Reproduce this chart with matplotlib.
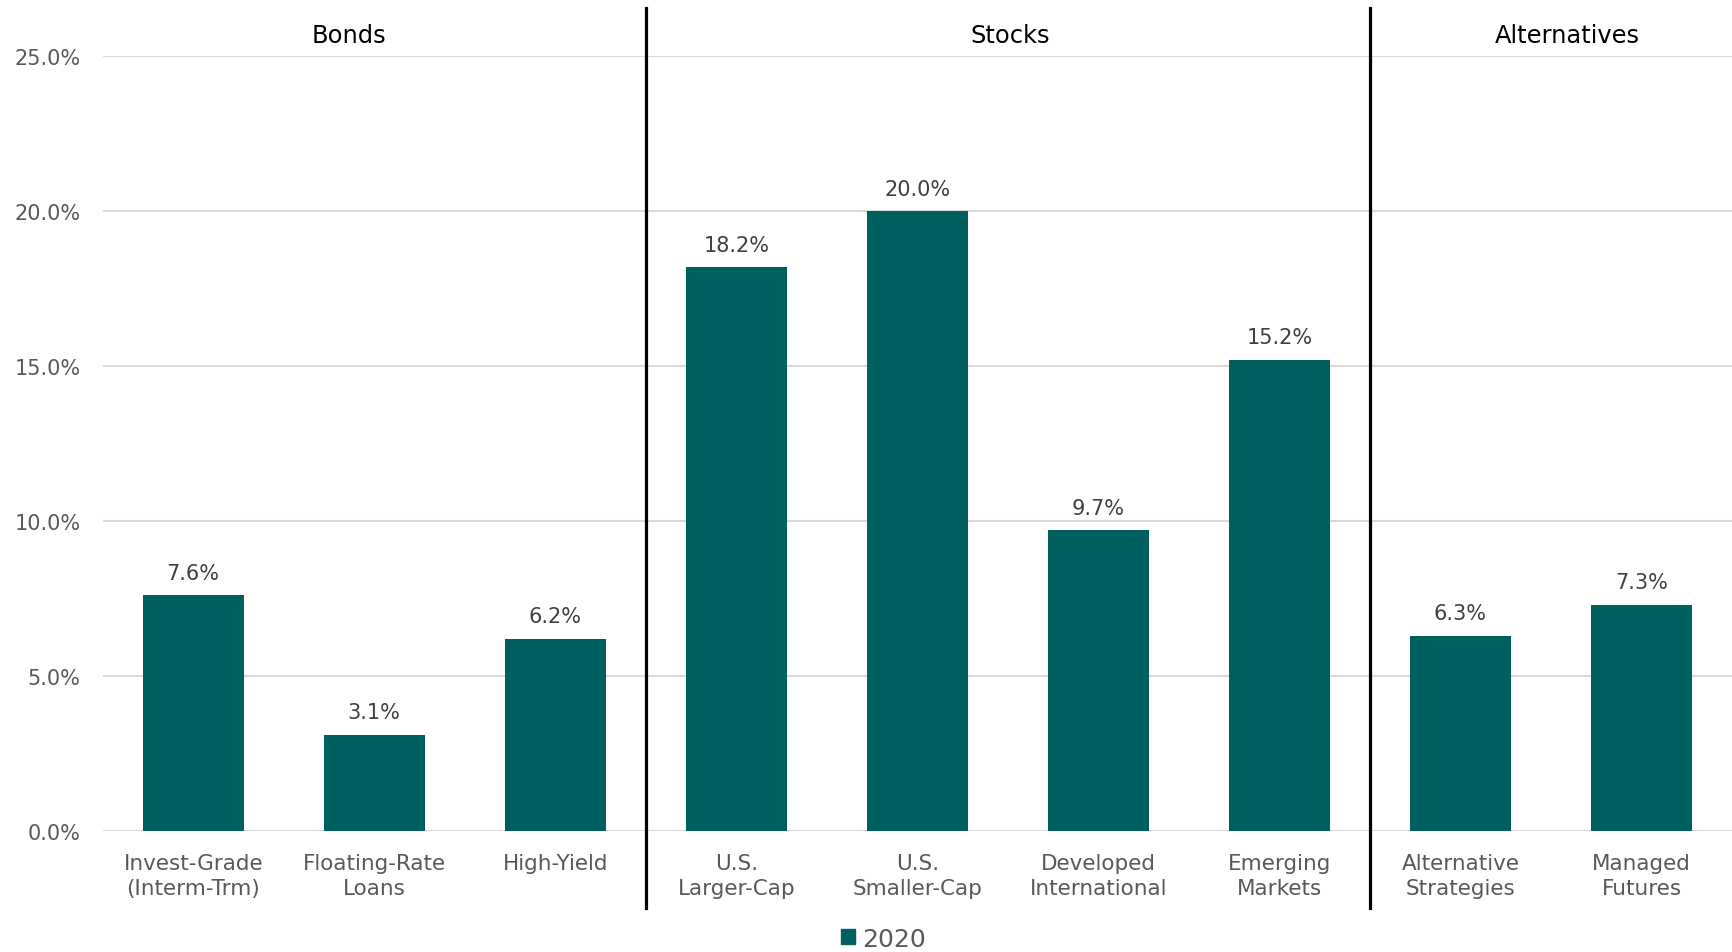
import matplotlib
matplotlib.use('Agg')
import matplotlib.pyplot as plt
import matplotlib.transforms as mtrans
from matplotlib.lines import Line2D
from matplotlib.patches import Patch

categories = ['Invest-Grade\n(Interm-Trm)', 'Floating-Rate\nLoans', 'High-Yield',
              'U.S.\nLarger-Cap', 'U.S.\nSmaller-Cap', 'Developed\nInternational',
              'Emerging\nMarkets', 'Alternative\nStrategies', 'Managed\nFutures']
returns2020 = [7.6, 3.1, 6.2, 18.2, 20.0, 9.7, 15.2, 6.3, 7.3]
groups = ['Bonds', 'Stocks', 'Alternatives']
groupCenters = [0.86, 4.51, 7.59]
separators = [2.5, 6.5]
yTicks = [0, 5, 10, 15, 20, 25]

barColor = '#005f5f'
plt.rcParams['font.family'] = ['DejaVu Sans']

fig = plt.figure(figsize=(17.32, 9.53), dpi=100)
ax = fig.add_axes([0.0593, 0.1272, 0.9407, 0.8126])

xs = list(range(len(categories)))
bars = ax.bar(xs, returns2020, width=0.56, color=barColor, zorder=3, label='2020')
ax.bar_label(bars, labels=['%.1f%%' % v for v in returns2020], padding=9,
             fontsize=15, color='#404040')

ax.set_xlim(-0.5, len(categories) - 0.5)
ax.set_ylim(0, 25)
ax.set_yticks(yTicks)
ax.set_yticklabels(['%.1f%%' % t for t in yTicks])
ax.set_xticks(xs)
ax.set_xticklabels(categories, linespacing=1.32)
ax.tick_params(axis='y', length=0, pad=16, labelsize=15, labelcolor='#595959')
ax.tick_params(axis='x', length=0, pad=16, labelsize=15.5, labelcolor='#595959')
ax.grid(axis='y', color='#d9d9d9', linewidth=1.5, zorder=0)
for s in ax.spines.values():
  s.set_visible(False)

# group separators run past the plot area, top to bottom
trans = mtrans.blended_transform_factory(ax.transData, fig.transFigure)
for xSep in separators:
  fig.add_artist(Line2D([xSep, xSep], [0.046, 0.991], transform=trans,
                        color='black', linewidth=2.3))

for name, xc in zip(groups, groupCenters):
  fig.text(xc, 0.9625, name, transform=trans, ha='center', va='center',
           fontsize=17.4, color='black')

fig.legend(handles=[Patch(color=barColor, label='2020')], loc='center',
           bbox_to_anchor=(0.51, 0.014), frameon=False, fontsize=18,
           labelcolor='#595959', handlelength=0.55, handleheight=0.55,
           handletextpad=0.3)

fig.savefig('out.png', dpi=100)
